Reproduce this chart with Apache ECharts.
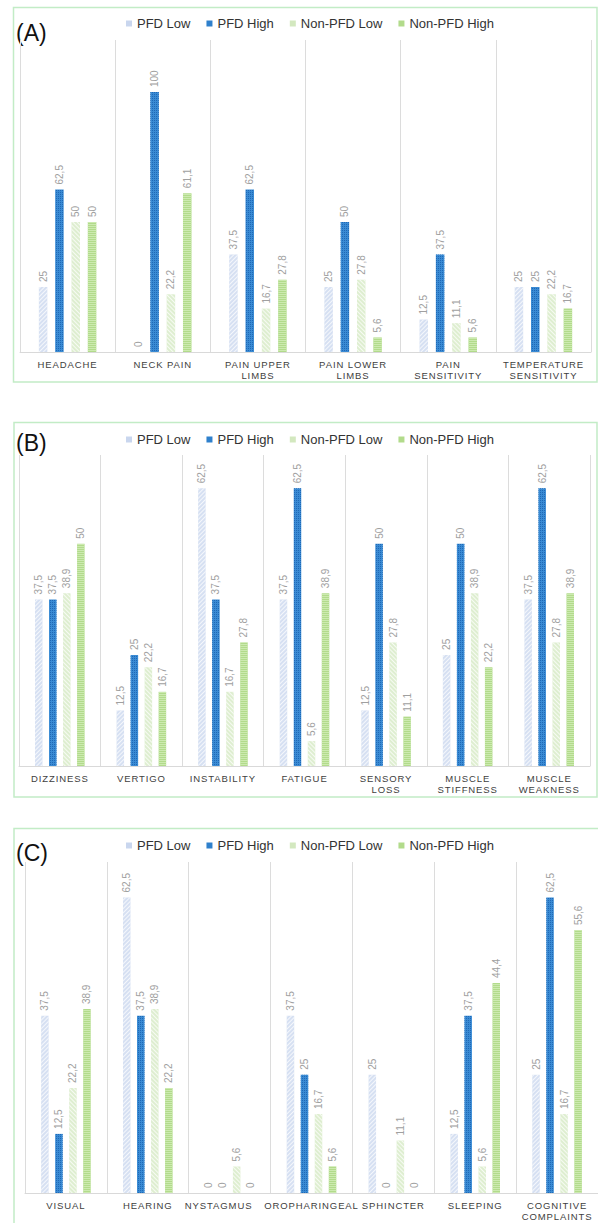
<!DOCTYPE html>
<html>
<head>
<meta charset="utf-8">
<script src="https://cdn.jsdelivr.net/npm/echarts@6/dist/echarts.min.js"></script>
<style>
html,body{margin:0;padding:0;background:#fff;}
#chart{width:598px;height:1223px;}
/* spaced capitals for category labels (font family marker "Helvetica") */
#chart svg text[style*="Helvetica"]{letter-spacing:0.9px;}
</style>
</head>
<body>
<div id="chart"></div>
<script>
// ---- Data ----
const seriesNames = ['PFD Low', 'PFD High', 'Non-PFD Low', 'Non-PFD High'];
const panelTitles = ['(A)', '(B)', '(C)'];

const catsA = ['HEADACHE', 'NECK PAIN', 'PAIN UPPER\nLIMBS', 'PAIN LOWER\nLIMBS', 'PAIN\nSENSITIVITY', 'TEMPERATURE\nSENSITIVITY'];
const pfdLowA = [25, 0, 37.5, 25, 12.5, 25];
const pfdHighA = [62.5, 100, 62.5, 50, 37.5, 25];
const nonPfdLowA = [50, 22.2, 16.7, 27.8, 11.1, 22.2];
const nonPfdHighA = [50, 61.1, 27.8, 5.6, 5.6, 16.7];

const catsB = ['DIZZINESS', 'VERTIGO', 'INSTABILITY', 'FATIGUE', 'SENSORY\nLOSS', 'MUSCLE\nSTIFFNESS', 'MUSCLE\nWEAKNESS'];
const pfdLowB = [37.5, 12.5, 62.5, 37.5, 12.5, 25, 37.5];
const pfdHighB = [37.5, 25, 37.5, 62.5, 50, 50, 62.5];
const nonPfdLowB = [38.9, 22.2, 16.7, 5.6, 27.8, 38.9, 27.8];
const nonPfdHighB = [50, 16.7, 27.8, 38.9, 11.1, 22.2, 38.9];

const catsC = ['VISUAL', 'HEARING', 'NYSTAGMUS', 'OROPHARINGEAL', 'SPHINCTER', 'SLEEPING', 'COGNITIVE\nCOMPLAINTS'];
const pfdLowC = [37.5, 62.5, 0, 37.5, 25, 12.5, 25];
const pfdHighC = [12.5, 37.5, 0, 25, 0, 37.5, 62.5];
const nonPfdLowC = [22.2, 38.9, 5.6, 16.7, 11.1, 5.6, 16.7];
const nonPfdHighC = [38.9, 22.2, 0, 5.6, 0, 44.4, 55.6];

const yMax = [120, 70, 70];

// ---- Styles ----
const colors = ['#d6e0f2', '#3a8bd4', '#deeed0', '#b2db8b'];
const decals = [
  { symbol: 'rect', symbolSize: 1, dashArrayX: [1, 0], dashArrayY: [1, 2], rotation: -Math.PI / 4, color: 'rgba(255,255,255,0.75)' },
  { symbol: 'rect', symbolSize: 1, dashArrayX: [1, 1], dashArrayY: [1, 1], color: 'rgba(20,90,170,0.7)' },
  { symbol: 'rect', symbolSize: 1, dashArrayX: [1, 0], dashArrayY: [1, 2], rotation: Math.PI / 4, color: 'rgba(255,255,255,0.75)' },
  { symbol: 'rect', symbolSize: 1, dashArrayX: [1, 0], dashArrayY: [1, 1], color: 'rgba(210,238,185,0.8)' }
];
const legendColors = ['#c9d6ee', '#2f80cc', '#d3e8bf', '#b2db8b'];
const labelFont = { color: '#404040', fontSize: 9.5, fontFamily: 'Arial, Helvetica', lineHeight: 11 };

const panels = [
  { cats: catsA, data: [pfdLowA, pfdHighA, nonPfdLowA, nonPfdHighA], grid: { left: 20, top: 40, width: 571, height: 312 }, barWidth: 8.5, barGap: '92%', legendTop: 12, box: [13.5, 7.5, 583.5, 374.5], title: [16, 33], shift: {} },
  { cats: catsB, data: [pfdLowB, pfdHighB, nonPfdLowB, nonPfdHighB], grid: { left: 19, top: 455, width: 571, height: 311 }, barWidth: 7.5, barGap: '87%', legendTop: 428, box: [14, 422.5, 583, 374.5], title: [16, 443], shift: {} },
  { cats: catsC, data: [pfdLowC, pfdHighC, nonPfdLowC, nonPfdHighC], grid: { left: 25, top: 862, width: 574, height: 331 }, barWidth: 7.5, barGap: '87%', legendTop: 834, box: [14, 828.5, 620, 420], title: [16, 853], shift: { 'NYSTAGMUS': 22 } }
];

const grids = [], xAxes = [], yAxes = [], series = [], legends = [], graphics = [];
panels.forEach((p, i) => {
  grids.push(Object.assign({ containLabel: false }, p.grid));
  const rich = { l: Object.assign({ padding: [0, 22, 0, 0] }, labelFont) };
  xAxes.push({
    type: 'category', gridIndex: i, data: p.cats,
    axisLine: { show: true, lineStyle: { color: '#d9d9d9' } },
    axisTick: { show: false },
    splitLine: { show: true, lineStyle: { color: '#dcdcdc', width: 1 } },
    axisLabel: Object.assign({ margin: 7, interval: 0, rich: rich,
      formatter: (v) => p.shift[v] ? '{l|' + v + '}' : v }, labelFont)
  });
  yAxes.push({ type: 'value', gridIndex: i, min: 0, max: yMax[i], show: false, splitLine: { show: false } });
  seriesNames.forEach((name, k) => {
    series.push({
      type: 'bar', name: name, xAxisIndex: i, yAxisIndex: i,
      data: p.data[k], barWidth: p.barWidth, barGap: p.barGap,
      itemStyle: { color: colors[k], decal: decals[k] },
      emphasis: { disabled: true },
      label: {
        show: true, position: 'top', rotate: 90, align: 'left', verticalAlign: 'middle',
        distance: 5, color: '#a0a0a0', fontSize: 10, fontFamily: 'Arial',
        formatter: (d) => String(d.value).replace('.', ',')
      }
    });
  });
  legends.push({
    data: seriesNames.map((n, k) => ({ name: n, itemStyle: { color: legendColors[k], decal: 'none', borderWidth: 0 } })),
    icon: 'rect',
    top: p.legendTop, left: 121, itemWidth: 6, itemHeight: 6, itemGap: 16,
    textStyle: { color: '#333', fontSize: 13, fontFamily: 'Arial' },
    selectedMode: false
  });
  graphics.push({
    type: 'rect', shape: { x: p.box[0], y: p.box[1], width: p.box[2], height: p.box[3] },
    style: { fill: 'none', stroke: '#c2ecc6', lineWidth: 1.5 }, silent: true, z: -1
  });
  graphics.push({
    type: 'text', x: p.title[0], y: p.title[1],
    style: { text: panelTitles[i], fontSize: 23, fontFamily: 'Arial', fill: '#111', verticalAlign: 'middle' }
  });
});

const chart = echarts.init(document.getElementById('chart'), null, { renderer: 'svg' });
chart.setOption({
  animation: false,
  backgroundColor: '#fff',
  grid: grids, xAxis: xAxes, yAxis: yAxes, series: series, legend: legends, graphic: graphics
});
</script>
</body>
</html>
